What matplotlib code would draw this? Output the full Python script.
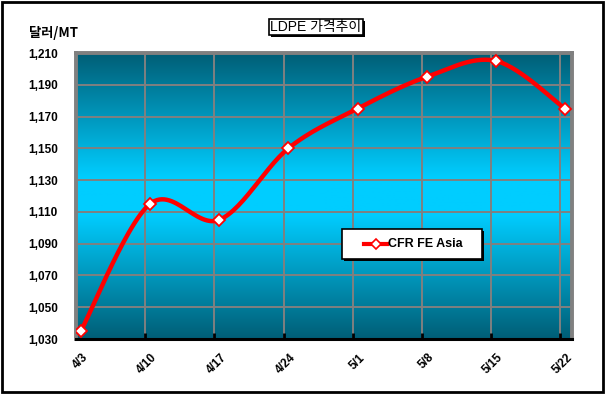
import numpy as np
import matplotlib
matplotlib.use("Agg")
import matplotlib.pyplot as plt
import matplotlib.transforms as mtransforms
from matplotlib.patches import Rectangle
from matplotlib.lines import Line2D

# data
dates = ["4/3", "4/10", "4/17", "4/24", "5/1", "5/8", "5/15", "5/22"]
prices = [1035, 1115, 1105, 1150, 1175, 1195, 1205, 1175]
y_ticks = [1030, 1050, 1070, 1090, 1110, 1130, 1150, 1170, 1190, 1210]
series_name = "CFR FE Asia"
title = "LDPE 가격추이"
unit = "달러/MT"

W, H = 605, 396
FONT = ["Liberation Sans", "Noto Sans CJK KR", "DejaVu Sans"]
plt.rcParams["font.family"] = FONT


def smooth(xs, ys, n=30):
    '''catmull-rom curve through points, like excel smoothed line'''
    p = np.column_stack([xs, ys]).astype(float)
    ext = np.vstack([p[0], p, p[-1]])
    out = []
    for i in range(len(p) - 1):
        p0, p1, p2, p3 = ext[i], ext[i + 1], ext[i + 2], ext[i + 3]
        m1 = (p2 - p0) / 2
        m2 = (p3 - p1) / 2
        t = np.linspace(0, 1, n)[:, None]
        h00 = 2 * t**3 - 3 * t**2 + 1
        h10 = t**3 - 2 * t**2 + t
        h01 = -2 * t**3 + 3 * t**2
        h11 = t**3 - t**2
        out.append(h00 * p1 + h10 * m1 + h01 * p2 + h11 * m2)
    c = np.vstack(out)
    return c[:, 0], c[:, 1]


def px(x, y):
    '''figure fraction from pixel coords (top-left origin)'''
    return x / W, 1 - y / H


fig = plt.figure(figsize=(W / 100, H / 100), dpi=100)
ax = fig.add_axes([76 / W, 1 - 339 / H, 496 / W, 286 / H])

shift = 0.07
xs = np.arange(len(dates))
ax.set_xlim(0, 7.17)
ax.set_ylim(y_ticks[0], y_ticks[-1])

# vertical gradient dark -> cyan -> dark
t = np.linspace(0, 1, 256)
k = 1 - np.abs(t - 0.5) * 2
k = np.clip(k * 1.15, 0, 1)
top = np.array([0, 94, 118]) / 255
mid = np.array([0, 205, 255]) / 255
grad = top[None, :] + (mid - top)[None, :] * k[:, None]
ax.imshow(grad[:, None, :], aspect="auto", extent=[0, 1, 0, 1],
          transform=ax.transAxes, zorder=0, interpolation="bilinear")

for yv in y_ticks:
    ax.axhline(yv, color="#808080", lw=1.4, zorder=1)
for xv in xs[1:]:
    ax.axvline(xv, color="#808080", lw=1.4, zorder=1)

cx, cy = smooth(xs + shift, prices)
ax.plot(cx, cy, color="#ff0000", lw=3.2, zorder=3, solid_capstyle="round")
ax.plot(xs + shift, prices, ls="none", marker="D", ms=6.5, mfc="white",
        mec="#ff0000", mew=1.3, zorder=4)

for side in ["top", "left", "right"]:
    ax.spines[side].set_color("#808080")
    ax.spines[side].set_linewidth(2.8)
ax.spines["bottom"].set_color("black")
ax.spines["bottom"].set_linewidth(2.2)

ax.set_yticks(y_ticks)
ax.set_yticklabels(["{:,}".format(v) for v in y_ticks], fontsize=8.5,
                   fontweight="bold")
ax.tick_params(axis="y", length=0, pad=13)
ax.set_xticks(xs)
ax.set_xticklabels(dates, fontsize=8.5, fontweight="bold", rotation=45,
                   ha="right", va="top", rotation_mode="anchor")
ax.tick_params(axis="x", direction="in", length=4, width=2, color="black",
               pad=9)
nudge = mtransforms.ScaledTranslation(6 / 100, 0, fig.dpi_scale_trans)
for lab in ax.get_xticklabels():
    lab.set_transform(lab.get_transform() + nudge)

# unit label
fig.text(*px(29, 33), unit, fontsize=9.5, fontweight="bold", ha="left",
         va="center", family=["Noto Sans CJK KR", "DejaVu Sans"])

# title box with shadow
fig.patches.append(Rectangle(px(271, 37), 94 / W, 16 / H, transform=fig.transFigure,
                             facecolor="black", edgecolor="none", zorder=5))
fig.patches.append(Rectangle(px(269, 35), 94 / W, 16 / H, transform=fig.transFigure,
                             facecolor="white", edgecolor="black", lw=1.2, zorder=6))
fig.text(*px(316, 27), title, fontsize=10, ha="center", va="center", zorder=7,
         family=["Liberation Sans", "Noto Sans CJK KR"])

# legend box with shadow
fig.patches.append(Rectangle(px(344, 261), 140 / W, 30 / H, transform=fig.transFigure,
                             facecolor="black", edgecolor="none", zorder=5))
fig.patches.append(Rectangle(px(342, 259), 140 / W, 30 / H, transform=fig.transFigure,
                             facecolor="white", edgecolor="black", lw=1.2, zorder=6))
lx0, ly = px(364, 244)
lx1, _ = px(387, 244)
fig.lines.append(Line2D([lx0, lx1], [ly, ly], transform=fig.transFigure,
                        color="#ff0000", lw=3, zorder=7))
fig.lines.append(Line2D([(lx0 + lx1) / 2], [ly], transform=fig.transFigure,
                        marker="D", ms=5, mfc="white", mec="#ff0000", mew=1.2,
                        zorder=8))
fig.text(*px(388, 244), series_name, fontsize=9, fontweight="bold", ha="left",
         va="center", zorder=8)

# outer border
fig.patches.append(Rectangle((2 / W, 4 / H), 601 / W, 390 / H, transform=fig.transFigure,
                             facecolor="none", edgecolor="black", lw=2, zorder=10))

fig.savefig("out.png", dpi=100)
